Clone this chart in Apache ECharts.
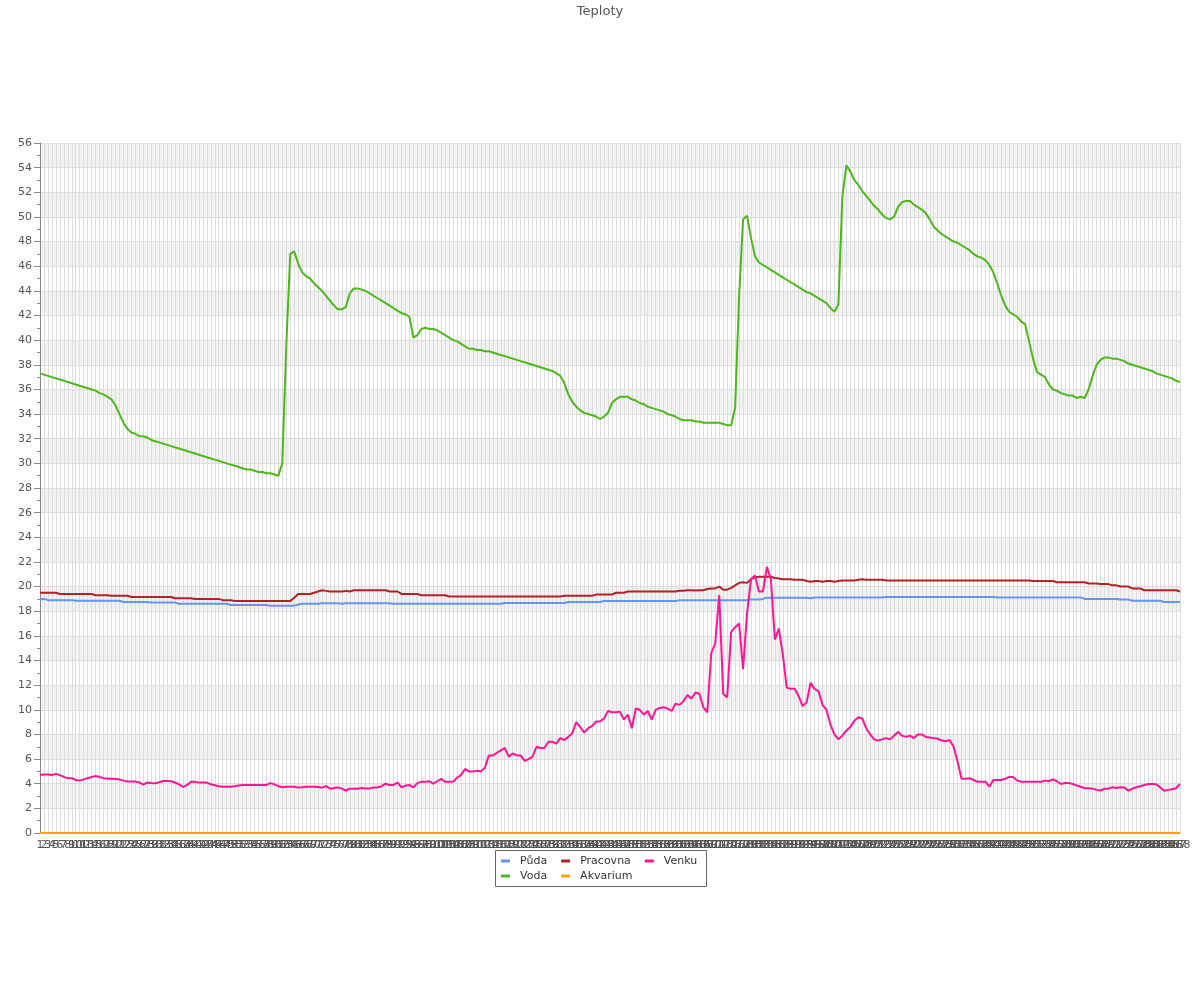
<!DOCTYPE html>
<html>
<head>
<meta charset="utf-8">
<script src="https://cdn.jsdelivr.net/npm/echarts@6/dist/echarts.min.js"></script>
<style>html,body{margin:0;padding:0;background:#fff}#c{width:1200px;height:1000px}</style>
</head>
<body>
<div id="c"></div>
<script>
// categories 1..288 (one per sample)
var categories = [];
for (var k = 1; k <= 288; k++) categories.push(String(k));

var puda = [
18.95,19.0,18.9,18.9,18.9,18.9,18.9,18.9,18.9,18.85,
18.85,18.85,18.85,18.85,18.85,18.85,18.85,18.85,18.85,18.85,
18.85,18.75,18.75,18.75,18.75,18.75,18.75,18.75,18.7,18.7,
18.7,18.7,18.7,18.7,18.7,18.6,18.6,18.6,18.6,18.6,
18.6,18.6,18.6,18.6,18.6,18.6,18.6,18.6,18.5,18.5,
18.5,18.5,18.5,18.5,18.5,18.5,18.5,18.5,18.45,18.45,
18.45,18.45,18.45,18.45,18.45,18.55,18.6,18.6,18.6,18.6,
18.6,18.65,18.65,18.65,18.65,18.65,18.6,18.65,18.65,18.65,
18.65,18.65,18.65,18.65,18.65,18.65,18.65,18.65,18.65,18.6,
18.6,18.6,18.6,18.6,18.6,18.6,18.6,18.6,18.6,18.6,
18.6,18.6,18.6,18.6,18.6,18.6,18.6,18.6,18.6,18.6,
18.6,18.6,18.6,18.6,18.6,18.6,18.6,18.67,18.67,18.67,
18.67,18.67,18.67,18.67,18.67,18.67,18.67,18.67,18.67,18.67,
18.67,18.67,18.67,18.75,18.75,18.75,18.75,18.75,18.75,18.75,
18.75,18.75,18.83,18.83,18.83,18.83,18.83,18.83,18.83,18.83,
18.83,18.83,18.83,18.83,18.83,18.83,18.83,18.83,18.83,18.83,
18.83,18.9,18.9,18.9,18.9,18.9,18.9,18.9,18.9,18.9,
18.9,18.9,18.9,18.9,18.9,18.9,18.9,18.9,18.9,18.95,
18.95,18.95,19.0,19.1,19.1,19.1,19.1,19.1,19.1,19.1,
19.1,19.1,19.1,19.1,19.05,19.12,19.12,19.12,19.12,19.12,
19.12,19.12,19.12,19.12,19.12,19.12,19.12,19.12,19.12,19.12,
19.12,19.12,19.12,19.15,19.15,19.15,19.15,19.15,19.15,19.15,
19.15,19.15,19.15,19.15,19.15,19.15,19.15,19.15,19.15,19.15,
19.15,19.15,19.15,19.15,19.15,19.15,19.15,19.15,19.15,19.15,
19.15,19.12,19.12,19.12,19.12,19.12,19.12,19.12,19.12,19.12,
19.12,19.12,19.12,19.12,19.12,19.12,19.12,19.12,19.12,19.12,
19.12,19.12,19.12,19.0,19.0,19.0,19.0,19.0,19.0,19.0,
19.0,19.0,18.95,18.95,18.95,18.85,18.85,18.85,18.85,18.85,
18.85,18.85,18.85,18.75,18.75,18.75,18.75,18.75
];

var voda = [
37.3,37.2,37.1,37.0,36.9,36.8,36.7,36.6,36.5,36.4,
36.3,36.2,36.1,36.0,35.9,35.7,35.6,35.4,35.2,34.7,
34.0,33.3,32.8,32.5,32.4,32.2,32.2,32.1,31.9,31.8,
31.7,31.6,31.5,31.4,31.3,31.2,31.1,31.0,30.9,30.8,
30.7,30.6,30.5,30.4,30.3,30.2,30.1,30.0,29.9,29.8,
29.7,29.6,29.5,29.5,29.4,29.3,29.3,29.2,29.2,29.1,
29.0,30.0,39.5,47.0,47.2,46.2,45.5,45.2,45.0,44.6,
44.3,44.0,43.6,43.2,42.8,42.5,42.5,42.7,43.8,44.2,
44.2,44.1,44.0,43.8,43.6,43.4,43.2,43.0,42.8,42.6,
42.4,42.2,42.1,41.9,40.2,40.4,40.9,41.0,40.9,40.9,
40.8,40.6,40.4,40.2,40.0,39.9,39.7,39.5,39.3,39.3,
39.2,39.2,39.1,39.1,39.0,38.9,38.8,38.7,38.6,38.5,
38.4,38.3,38.2,38.1,38.0,37.9,37.8,37.7,37.6,37.5,
37.3,37.1,36.5,35.6,35.0,34.6,34.3,34.1,34.0,33.9,
33.8,33.6,33.8,34.1,34.9,35.2,35.4,35.4,35.4,35.2,
35.1,34.9,34.8,34.6,34.5,34.4,34.3,34.2,34.0,33.9,
33.8,33.6,33.5,33.5,33.5,33.4,33.4,33.3,33.3,33.3,
33.3,33.3,33.2,33.1,33.1,34.5,43.5,49.8,50.1,48.3,
46.8,46.3,46.1,45.9,45.7,45.5,45.3,45.1,44.9,44.7,
44.5,44.3,44.1,43.9,43.8,43.6,43.4,43.2,43.0,42.6,
42.3,42.9,51.6,54.2,53.7,53.0,52.6,52.1,51.7,51.3,
50.9,50.6,50.2,49.9,49.8,50.0,50.8,51.2,51.3,51.3,
51.0,50.8,50.6,50.3,49.8,49.2,48.9,48.6,48.4,48.2,
48.0,47.9,47.7,47.5,47.3,47.0,46.8,46.7,46.5,46.1,
45.5,44.6,43.6,42.8,42.3,42.1,41.9,41.5,41.3,39.9,
38.5,37.4,37.2,37.0,36.4,36.0,35.9,35.7,35.6,35.5,
35.5,35.3,35.4,35.3,36.0,37.1,38.0,38.4,38.6,38.6,
38.5,38.5,38.4,38.3,38.1,38.0,37.9,37.8,37.7,37.6,
37.5,37.3,37.2,37.1,37.0,36.9,36.7,36.6
];

var pracovna = [
19.5,19.5,19.5,19.5,19.5,19.4,19.4,19.4,19.4,19.4,
19.4,19.4,19.4,19.4,19.3,19.3,19.3,19.3,19.25,19.25,
19.25,19.25,19.25,19.15,19.15,19.15,19.15,19.15,19.15,19.15,
19.15,19.15,19.15,19.15,19.05,19.05,19.05,19.05,19.05,19.0,
19.0,19.0,19.0,19.0,19.0,19.0,18.9,18.9,18.9,18.83,
18.83,18.83,18.83,18.83,18.83,18.83,18.83,18.83,18.83,18.83,
18.83,18.83,18.83,18.83,19.1,19.4,19.4,19.4,19.4,19.5,
19.6,19.7,19.65,19.6,19.6,19.6,19.6,19.65,19.6,19.7,
19.7,19.7,19.7,19.7,19.7,19.7,19.7,19.7,19.6,19.6,
19.6,19.4,19.4,19.4,19.4,19.4,19.3,19.3,19.3,19.3,
19.3,19.3,19.3,19.2,19.2,19.2,19.2,19.2,19.2,19.2,
19.2,19.2,19.2,19.2,19.2,19.2,19.2,19.2,19.2,19.2,
19.2,19.2,19.2,19.2,19.2,19.2,19.2,19.2,19.2,19.2,
19.2,19.2,19.25,19.25,19.25,19.25,19.25,19.25,19.25,19.25,
19.35,19.35,19.35,19.35,19.35,19.5,19.5,19.5,19.6,19.6,
19.6,19.6,19.6,19.6,19.6,19.6,19.6,19.6,19.6,19.6,
19.6,19.66,19.66,19.7,19.7,19.68,19.7,19.7,19.8,19.85,
19.85,20.0,19.75,19.75,19.9,20.1,20.3,20.35,20.3,20.6,
20.75,20.8,20.8,20.8,20.8,20.7,20.65,20.6,20.6,20.6,
20.55,20.55,20.55,20.45,20.4,20.45,20.45,20.4,20.45,20.45,
20.4,20.45,20.5,20.5,20.5,20.5,20.55,20.6,20.55,20.55,
20.55,20.55,20.55,20.5,20.5,20.5,20.5,20.5,20.5,20.5,
20.5,20.5,20.5,20.5,20.5,20.5,20.5,20.5,20.5,20.5,
20.5,20.5,20.5,20.5,20.5,20.5,20.5,20.5,20.5,20.5,
20.5,20.5,20.5,20.5,20.5,20.5,20.5,20.5,20.5,20.5,
20.45,20.45,20.45,20.45,20.45,20.45,20.35,20.35,20.35,20.35,
20.35,20.35,20.35,20.35,20.25,20.25,20.25,20.2,20.2,20.2,
20.1,20.1,20.0,20.0,20.0,19.85,19.85,19.85,19.7,19.7,
19.7,19.7,19.7,19.7,19.7,19.7,19.7,19.6
];

var akvarium = [
0,0,0,0,0,0,0,0,0,0, 0,0,0,0,0,0,0,0,0,0, 0,0,0,0,0,0,0,0,0,0,
0,0,0,0,0,0,0,0,0,0, 0,0,0,0,0,0,0,0,0,0, 0,0,0,0,0,0,0,0,0,0,
0,0,0,0,0,0,0,0,0,0, 0,0,0,0,0,0,0,0,0,0, 0,0,0,0,0,0,0,0,0,0,
0,0,0,0,0,0,0,0,0,0, 0,0,0,0,0,0,0,0,0,0, 0,0,0,0,0,0,0,0,0,0,
0,0,0,0,0,0,0,0,0,0, 0,0,0,0,0,0,0,0,0,0, 0,0,0,0,0,0,0,0,0,0,
0,0,0,0,0,0,0,0,0,0, 0,0,0,0,0,0,0,0,0,0, 0,0,0,0,0,0,0,0,0,0,
0,0,0,0,0,0,0,0,0,0, 0,0,0,0,0,0,0,0,0,0, 0,0,0,0,0,0,0,0,0,0,
0,0,0,0,0,0,0,0,0,0, 0,0,0,0,0,0,0,0,0,0, 0,0,0,0,0,0,0,0,0,0,
0,0,0,0,0,0,0,0,0,0, 0,0,0,0,0,0,0,0,0,0, 0,0,0,0,0,0,0,0,0,0,
0,0,0,0,0,0,0,0,0,0, 0,0,0,0,0,0,0,0
];

var venku = [
4.7,4.75,4.75,4.7,4.8,4.7,4.55,4.45,4.45,4.3,
4.25,4.35,4.45,4.55,4.63,4.55,4.45,4.4,4.4,4.38,
4.35,4.25,4.18,4.17,4.17,4.1,3.92,4.09,4.05,4.03,
4.12,4.22,4.22,4.2,4.1,3.95,3.73,3.9,4.15,4.15,
4.1,4.1,4.09,3.95,3.88,3.8,3.76,3.76,3.76,3.8,
3.85,3.9,3.9,3.9,3.9,3.9,3.9,3.9,4.05,3.95,
3.8,3.71,3.76,3.76,3.76,3.7,3.71,3.76,3.76,3.76,
3.73,3.68,3.81,3.6,3.65,3.7,3.6,3.45,3.6,3.6,
3.6,3.65,3.62,3.62,3.7,3.7,3.8,4.0,3.9,3.9,
4.1,3.7,3.85,3.9,3.7,4.05,4.15,4.15,4.2,4.0,
4.2,4.4,4.15,4.15,4.15,4.5,4.7,5.2,5.0,5.0,
5.05,5.0,5.3,6.3,6.3,6.5,6.7,6.9,6.2,6.45,
6.3,6.3,5.85,6.0,6.2,7.0,6.9,6.9,7.4,7.4,
7.25,7.7,7.55,7.8,8.1,9.0,8.6,8.15,8.5,8.7,
9.05,9.05,9.3,9.9,9.8,9.8,9.85,9.2,9.6,8.5,
10.1,10.0,9.6,9.9,9.2,10.0,10.15,10.2,10.1,9.9,
10.5,10.4,10.7,11.2,10.9,11.4,11.3,10.2,9.8,14.6,
15.4,19.3,11.3,11.0,16.3,16.7,17.0,13.3,17.8,20.6,
20.9,19.6,19.6,21.6,20.6,15.7,16.6,14.5,11.8,11.7,
11.7,11.1,10.3,10.6,12.2,11.7,11.5,10.4,10.0,8.8,
8.0,7.6,7.9,8.3,8.6,9.1,9.4,9.3,8.5,8.0,
7.6,7.5,7.6,7.7,7.6,7.9,8.2,7.9,7.8,7.9,
7.7,8.0,8.0,7.8,7.75,7.7,7.65,7.5,7.45,7.55,
7.0,5.8,4.4,4.4,4.45,4.3,4.16,4.16,4.16,3.76,
4.3,4.3,4.3,4.4,4.55,4.55,4.25,4.16,4.16,4.16,
4.16,4.16,4.16,4.25,4.2,4.35,4.2,3.98,4.05,4.05,
3.98,3.85,3.75,3.63,3.63,3.6,3.5,3.45,3.6,3.6,
3.71,3.65,3.71,3.7,3.43,3.6,3.71,3.8,3.9,3.98,
3.98,3.95,3.7,3.43,3.5,3.55,3.63,3.98
];

var yTicks = { min: 0, max: 56, interval: 2 };
var FONT = 'DejaVu Sans';

var chart = echarts.init(document.getElementById('c'), null, { renderer: 'canvas' });
chart.setOption({
  animation: false,
  backgroundColor: '#ffffff',
  title: {
    text: 'Teploty', left: 'center', top: 0,
    textStyle: { fontSize: 13, fontWeight: 'normal', color: '#555', fontFamily: FONT }
  },
  legend: [
    {
      data: ['Půda', 'Pracovna', 'Venku'], left: 501, top: 854, padding: 0,
      icon: 'rect', itemWidth: 9, itemHeight: 3, itemGap: 14,
      textStyle: { fontSize: 11, color: '#333', fontFamily: FONT, lineHeight: 14, padding: [0, 0, 0, 5] }
    },
    {
      data: ['Voda', 'Akvarium'], left: 501, top: 869, padding: 0,
      icon: 'rect', itemWidth: 9, itemHeight: 3, itemGap: 14,
      textStyle: { fontSize: 11, color: '#333', fontFamily: FONT, lineHeight: 14, padding: [0, 0, 0, 5] }
    }
  ],
  graphic: [{
    type: 'rect', silent: true, z: 100,
    shape: { x: 495.5, y: 850.5, width: 211, height: 36 },
    style: { fill: 'none', stroke: '#666', lineWidth: 1 }
  }],
  grid: { left: 40, right: 20, top: 143, bottom: 167, containLabel: false },
  xAxis: {
    type: 'category', data: categories, boundaryGap: false,
    axisLine: { show: true, lineStyle: { color: '#888' } },
    axisTick: { show: false },
    axisLabel: { interval: 0, hideOverlap: false, fontSize: 11, color: '#555', margin: 7, fontFamily: FONT },
    splitLine: { show: true, interval: 0, lineStyle: { color: '#dddddd', width: 1 } }
  },
  yAxis: {
    type: 'value', min: yTicks.min, max: yTicks.max, interval: yTicks.interval,
    axisLine: { show: true, lineStyle: { color: '#888' } },
    axisTick: { show: true, length: 6, lineStyle: { color: '#888' } },
    minorTick: { show: true, splitNumber: 2, length: 3, lineStyle: { color: '#888' } },
    axisLabel: { fontSize: 11, color: '#555', margin: 8, fontFamily: FONT },
    splitLine: { show: true, lineStyle: { color: '#dddddd', width: 1 } },
    splitArea: { show: true, areaStyle: { color: ['rgba(255,255,255,0)', '#f2f2f2'] } }
  },
  series: [
    { name: 'Půda', type: 'line', data: puda, showSymbol: false, color: '#6495ED', lineStyle: { width: 2 } },
    { name: 'Voda', type: 'line', data: voda, showSymbol: false, color: '#4CB81A', lineStyle: { width: 2 } },
    { name: 'Pracovna', type: 'line', data: pracovna, showSymbol: false, color: '#B22222', lineStyle: { width: 2 } },
    { name: 'Akvarium', type: 'line', data: akvarium, showSymbol: false, color: '#FFA500', lineStyle: { width: 2 } },
    { name: 'Venku', type: 'line', data: venku, showSymbol: false, color: '#FF1493', lineStyle: { width: 2 } }
  ]
});
</script>
</body>
</html>
